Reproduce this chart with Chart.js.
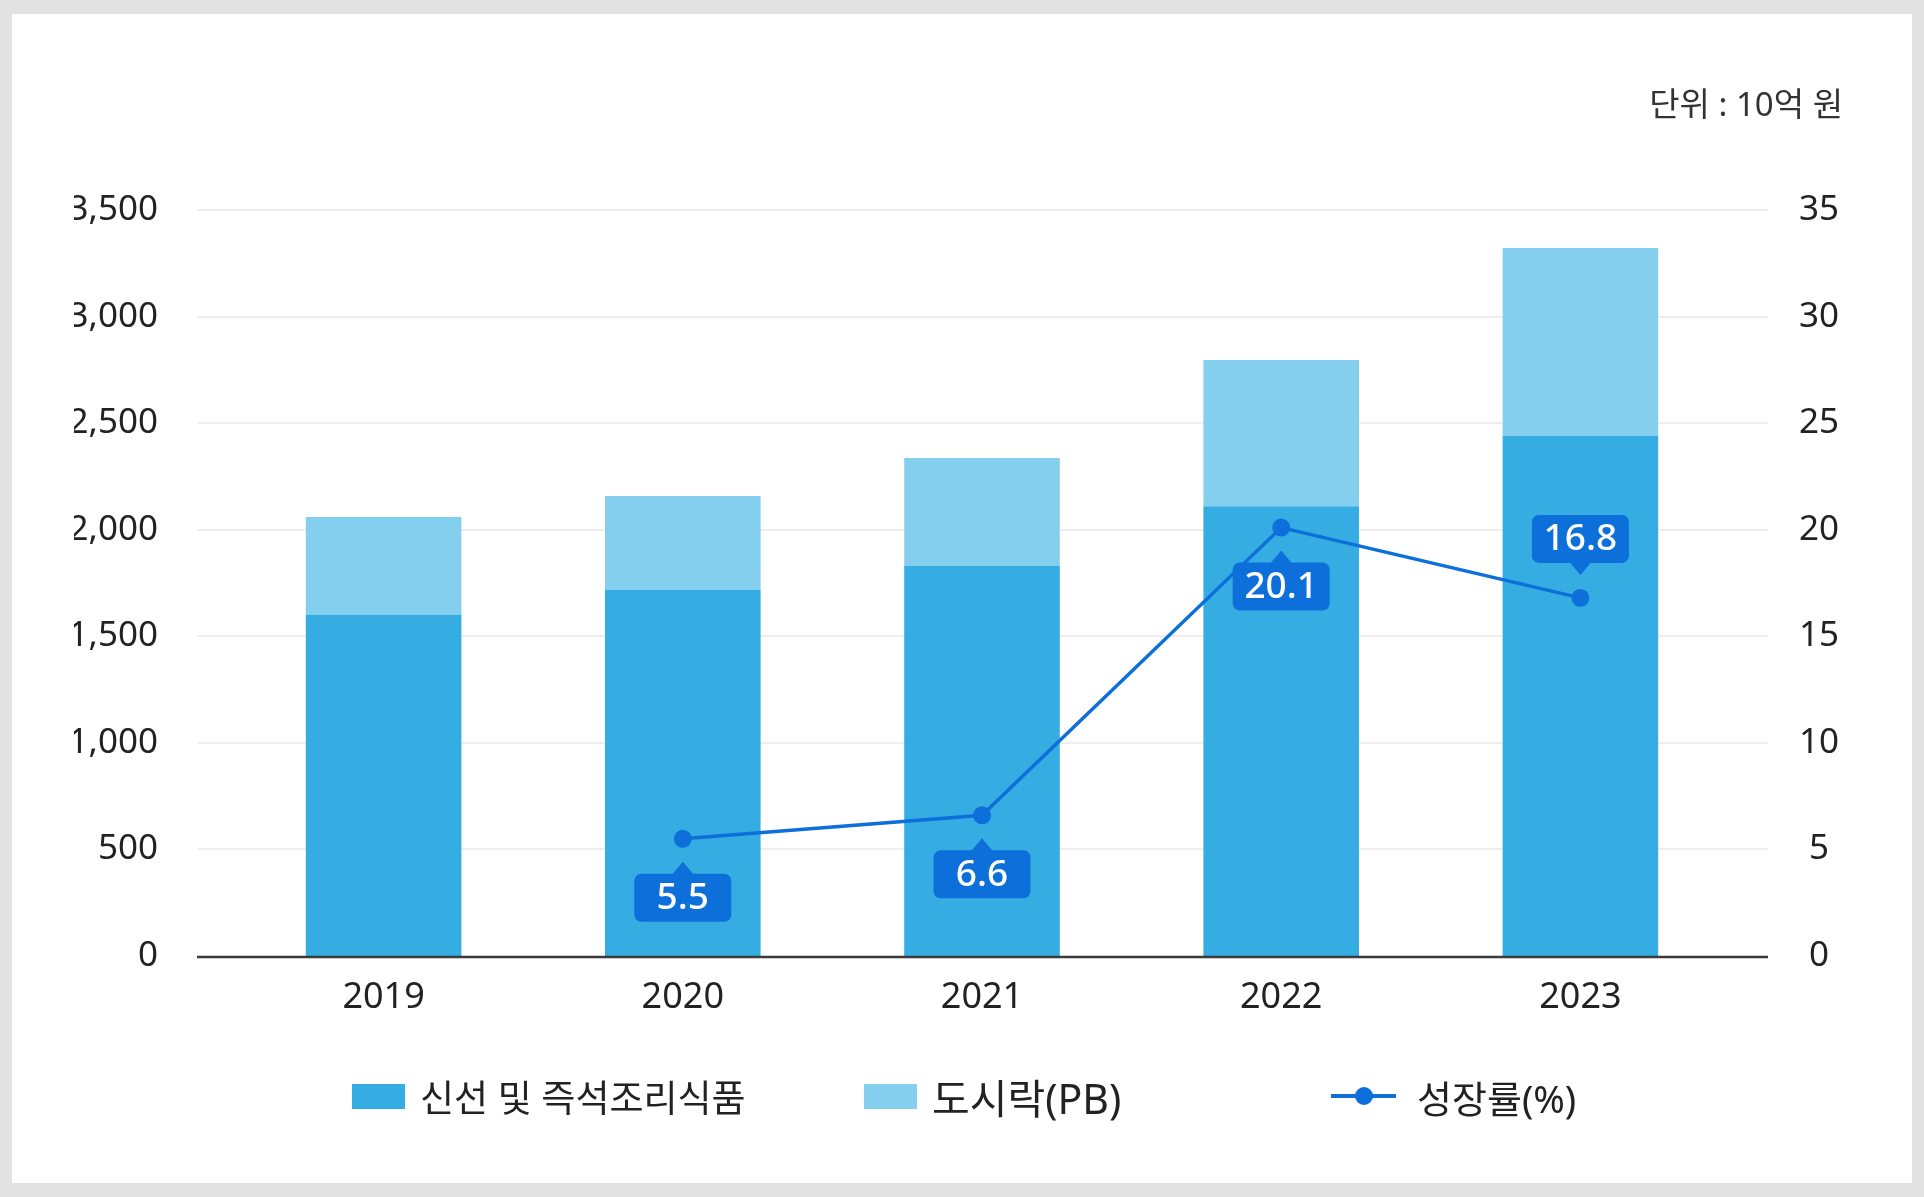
<!DOCTYPE html>
<html>
<head>
<meta charset="utf-8">
<script src="https://cdn.jsdelivr.net/npm/chart.js@4.4.1/dist/chart.umd.min.js"></script>
<style>
  html, body { margin: 0; padding: 0; width: 1924px; height: 1197px; overflow: hidden; background: #e2e2e2; }
  #panel { position: absolute; left: 12px; top: 14px; width: 1900px; height: 1169px; background: #fff; }
  #c { position: absolute; left: 0; top: 0; }
  #unit { position: absolute; right: 81px; top: 78px; font: 33px 'Noto Sans', 'Noto Sans CJK KR', sans-serif; color: #333; white-space: nowrap; }
  .lg { position: absolute; top: 1070px; height: 52px; display: flex; align-items: center; color: #222;
        font-family: 'Noto Sans', 'Noto Sans CJK KR', sans-serif; white-space: nowrap; }
  .sw { width: 53px; height: 25px; margin-right: 15px; }
  .ln { position: relative; width: 65px; height: 4px; margin-right: 21px; }
  .ln span { position: absolute; left: 24px; top: -7px; width: 18px; height: 18px; border-radius: 50%; }
</style>
</head>
<body>
<div id="panel"></div>
<canvas id="c" width="1924" height="1197"></canvas>
<div id="unit">단위 : 10억 원</div>
<div id="legend"></div>
<script>
const years = ["2019", "2020", "2021", "2022", "2023"];
const freshFood = [1600, 1717, 1830, 2110, 2440];
const lunchBox = [460, 441, 507, 686, 882];
const growthRate = [null, 5.5, 6.6, 20.1, 16.8];
const leftTicks = [0, 3500, 500];
const rightTicks = [0, 35, 5];

const FONT = "'Noto Sans', 'Noto Sans CJK KR', sans-serif";
const DARK = "#36ade2";
const LIGHT = "#84cfee";
const LINE = "#0c6fda";

// horizontal grid + base line, wider than the category area
const gridPlugin = {
  id: "gridPlugin",
  beforeDatasetsDraw(chart) {
    const { ctx, chartArea, scales } = chart;
    ctx.save();
    ctx.strokeStyle = "#eeeeee";
    ctx.lineWidth = 2;
    scales.y.ticks.forEach(t => {
      if (t.value === 0) return;
      const py = Math.round(scales.y.getPixelForValue(t.value));
      ctx.beginPath();
      ctx.moveTo(chartArea.left - 37, py);
      ctx.lineTo(chartArea.right + 38, py);
      ctx.stroke();
    });
    ctx.restore();
  },
  afterDatasetsDraw(chart) {
    const { ctx, chartArea, scales } = chart;
    const py = scales.y.getPixelForValue(0) + 1;
    ctx.save();
    ctx.strokeStyle = "#3a3a3a";
    ctx.lineWidth = 2.5;
    ctx.beginPath();
    ctx.moveTo(chartArea.left - 37, py);
    ctx.lineTo(chartArea.right + 38, py);
    ctx.stroke();
    ctx.restore();
  }
};

// callout boxes with the growth values
const calloutPlugin = {
  id: "calloutPlugin",
  afterDraw(chart) {
    const { ctx } = chart;
    const idx = chart.data.datasets.findIndex(d => d.type === "line");
    const meta = chart.getDatasetMeta(idx);
    const data = chart.data.datasets[idx].data;
    const w = 97, h = 48, r = 7, gap = 35, tip = 12;
    ctx.save();
    meta.data.forEach((pt, i) => {
      if (data[i] == null) return;
      const up = i === data.length - 1; // last label sits above the point
      const x = pt.x, y = pt.y;
      const top = up ? y - gap - h : y + gap;
      ctx.fillStyle = LINE;
      ctx.beginPath();
      ctx.roundRect(x - w / 2, top, w, h, r);
      ctx.fill();
      ctx.beginPath();
      if (up) {
        ctx.moveTo(x - 11, top + h - 1);
        ctx.lineTo(x + 11, top + h - 1);
        ctx.lineTo(x, top + h + tip);
      } else {
        ctx.moveTo(x - 11, top + 1);
        ctx.lineTo(x + 11, top + 1);
        ctx.lineTo(x, top - tip);
      }
      ctx.fill();
      ctx.fillStyle = "#fff";
      ctx.font = "500 37px " + FONT;
      ctx.textAlign = "center";
      ctx.textBaseline = "middle";
      ctx.fillText(data[i].toFixed(1), x, top + h / 2 + 1);
    });
    ctx.restore();
  }
};

const chart = new Chart(document.getElementById("c"), {
  data: {
    labels: years,
    datasets: [
      {
        type: "bar",
        label: "신선 및 즉석조리식품",
        data: freshFood,
        backgroundColor: DARK,
        yAxisID: "y",
        order: 1,
        barPercentage: 0.52,
        categoryPercentage: 1
      },
      {
        type: "bar",
        label: "도시락(PB)",
        data: lunchBox,
        backgroundColor: LIGHT,
        yAxisID: "y",
        order: 1,
        barPercentage: 0.52,
        categoryPercentage: 1
      },
      {
        type: "line",
        label: "성장률(%)",
        data: growthRate,
        borderColor: LINE,
        backgroundColor: LINE,
        borderWidth: 3.5,
        pointRadius: 9,
        pointBackgroundColor: LINE,
        pointBorderWidth: 0,
        yAxisID: "y1",
        order: 0,
        spanGaps: false
      }
    ]
  },
  options: {
    responsive: false,
    devicePixelRatio: 1,
    animation: false,
    layout: { padding: { left: 74, right: 44, top: 210, bottom: 161 } },
    plugins: {
      legend: { display: false },
      tooltip: { enabled: false }
    },
    scales: {
      x: {
        stacked: true,
        grid: { display: false, drawTicks: false },
        border: { display: false },
        ticks: { font: { family: FONT, size: 36 }, color: "#222", padding: 20 },
        afterFit(s) { s.height = 80; }
      },
      y: {
        stacked: true,
        position: "left",
        min: leftTicks[0],
        max: leftTicks[1],
        grid: { display: false, drawTicks: false },
        border: { display: false },
        ticks: { stepSize: leftTicks[2], font: { family: FONT, size: 35 }, color: "#222", padding: 76 },
        afterFit(s) { s.width = 160; }
      },
      y1: {
        position: "right",
        min: rightTicks[0],
        max: rightTicks[1],
        grid: { display: false, drawTicks: false },
        border: { display: false },
        ticks: { stepSize: rightTicks[2], font: { family: FONT, size: 35 }, color: "#222", padding: 69, crossAlign: "center" },
        afterFit(s) { s.width = 150; }
      }
    }
  },
  plugins: [gridPlugin, calloutPlugin]
});

// legend built from the chart's datasets
const legendLeft = [352, 864, 1331];
const legendSize = [37, 41, 38];
const host = document.getElementById("legend");
chart.data.datasets.forEach((ds, i) => {
  const item = document.createElement("div");
  item.className = "lg";
  item.style.left = legendLeft[i] + "px";
  item.style.fontSize = legendSize[i] + "px";
  if (ds.type === "line") {
    item.innerHTML = '<div class="ln" style="background:' + ds.borderColor + '"><span style="background:' + ds.borderColor + '"></span></div>';
  } else {
    item.innerHTML = '<div class="sw" style="background:' + ds.backgroundColor + '"></div>';
  }
  const txt = document.createElement("span");
  txt.textContent = ds.label;
  item.appendChild(txt);
  host.appendChild(item);
});
</script>
</body>
</html>
